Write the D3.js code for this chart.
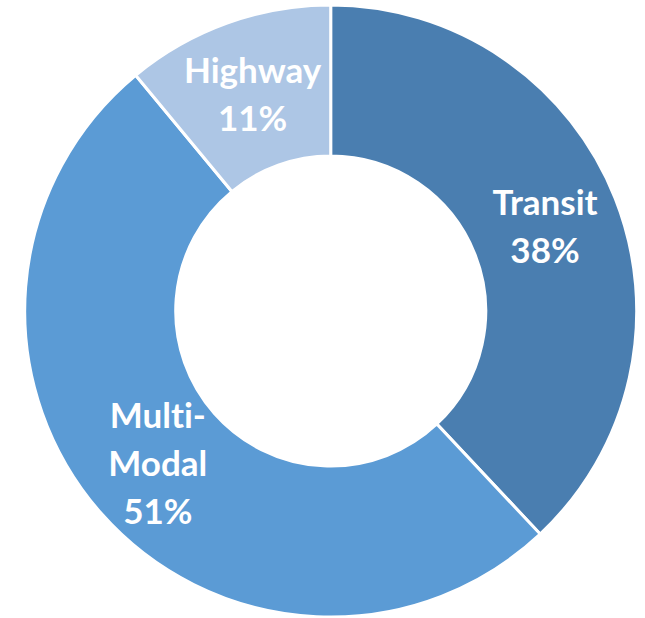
<!DOCTYPE html>
<html>
<head>
<meta charset="utf-8">
<script src="https://cdn.jsdelivr.net/npm/d3@7"></script>
<style>
	body { margin: 0; background: white; }
</style>
</head>
<body>
<script>
var categories = ['Transit', 'Multi-Modal', 'Highway']
var shares = [38, 51, 11]
// label lines as they wrap in the original
var labelLines = [
	['Transit', '38%'],
	['Multi-', 'Modal', '51%'],
	['Highway', '11%']
]

var color = d3.scaleOrdinal()
	.domain(categories)
	.range(['#4a7eb0', '#5b9bd5', '#adc6e5'])

var width = 645,
	height = 618,
	cx = 330.7,
	cy = 311,
	outer = 306,
	inner = 155

var svg = d3.select('body').append('svg')
	.attr('width', width)
	.attr('height', height)

var g = svg.append('g')
	.attr('transform', 'translate(' + cx + ',' + cy + ')')

var pie = d3.pie()
	.sort(null)
	.value(d => d)

var arc = d3.arc()
	.innerRadius(inner)
	.outerRadius(outer)

var arcs = pie(shares)

g.selectAll('path')
	.data(arcs)
	.enter()
	.append('path')
		.attr('d', arc)
		.attr('fill', (d, i) => color(categories[i]))
		.attr('stroke', 'white')
		.attr('stroke-width', 3)

var lineH = 48

var labels = g.selectAll('text.lbl')
	.data(arcs)
	.enter()
	.append('text')
		.attr('class', 'lbl')
		.attr('transform', d => 'translate(' + arc.centroid(d) + ')')
		.attr('text-anchor', 'middle')
		.attr('fill', 'white')
		.style('font-family', 'Lato, "Open Sans", sans-serif')
		.style('font-weight', 'bold')
		.style('font-size', '35px')
		.style('font-variant-ligatures', 'none')

labels.each(function(d, i) {
	var lines = labelLines[i]
	var top = -(lines.length - 1) * lineH / 2
	d3.select(this).selectAll('tspan')
		.data(lines)
		.enter()
		.append('tspan')
			.attr('x', 0)
			.attr('y', (t, j) => top + j * lineH)
			.attr('dy', '0.36em')
			.text(t => t)
})
</script>
</body>
</html>
